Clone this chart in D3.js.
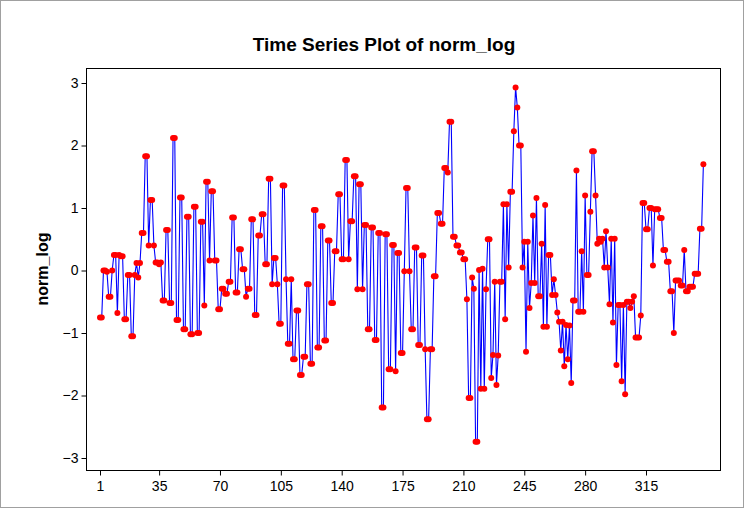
<!DOCTYPE html>
<html>
<head>
<meta charset="utf-8">
<script src="https://cdn.jsdelivr.net/npm/d3@7"></script>
<style>
  html, body { margin: 0; padding: 0; background: #fff; }
  svg { display: block; font-family: "Liberation Sans", Arial, sans-serif; }
</style>
</head>
<body>
<div id="chart"></div>
<script>
// Time series values (index 1..348)
const normLog = [
  -0.75, -0.75, 0.0, 0.0, -0.02, -0.42, -0.42, 0.0, 0.25, 0.25, -0.68, 0.25, 0.23, 0.23, -0.78, -0.78, -0.07, -0.07, -1.05, -1.05, -0.07, 0.12, -0.11, 0.12, 0.6, 0.6, 1.83, 1.83,
  0.4, 1.13, 1.13, 0.4, 0.13, 0.13, 0.1, 0.13, -0.48, -0.48, 0.65, 0.65, -0.52, -0.52, 2.12, 2.12, -0.79, -0.79, 1.17, 1.17, -0.94, -0.94, 0.86, 0.86, -1.02, -1.02, 1.02, 1.02,
  -1.0, -1.0, 0.78, 0.78, -0.56, 1.42, 1.42, 0.16, 1.27, 1.27, 0.16, 0.16, -0.62, -0.62, -0.29, -0.29, -0.37, -0.37, -0.18, -0.18, 0.85, 0.85, -0.35, -0.35, 0.34, 0.34, 0.02, 0.02, -0.42,
  -0.29, -0.29, 0.82, 0.82, -0.71, -0.71, 0.56, 0.56, 0.9, 0.9, 0.1, 0.1, 1.47, 1.47, -0.22, 0.2, 0.2, -0.22, -0.85, -0.85, 1.36, 1.36, -0.14, -1.17, -1.17, -0.14, -1.42, -1.42, -0.64,
  -0.64, -1.67, -1.67, -1.38, -1.38, -0.22, -0.22, -1.49, -1.49, 0.97, 0.97, -1.23, -1.23, 0.71, 0.71, -1.12, -1.12, 0.48, 0.48, -0.52, -0.52, 0.31, 0.31, 1.22, 1.22, 0.18, 0.18, 1.77,
  1.77, 0.18, 0.79, 0.79, 1.51, 1.51, -0.3, 1.38, 1.38, -0.3, 0.73, 0.73, -0.94, -0.94, 0.69, 0.69, -1.11, -1.11, 0.6, 0.6, -2.19, -2.19, 0.58, 0.58, -1.58, -1.58, 0.41, 0.41, -1.61,
  0.28, 0.28, -1.32, -1.32, -0.01, 1.32, 1.32, -0.01, -0.94, -0.94, 0.37, 0.37, -1.19, -1.19, 0.24, 0.24, -1.26, -2.38, -2.38, -1.26, -1.26, -0.09, -0.09, 0.92, 0.92, 0.75, 0.75, 1.64, 1.64,
  1.57, 2.38, 2.38, 0.54, 0.54, 0.4, 0.4, 0.29, 0.29, 0.18, 0.18, -0.46, -2.04, -2.04, -0.11, -0.29, -2.74, -2.74, 0.01, -1.89, 0.03, -1.89, -0.3, 0.5, 0.5, -1.72, -1.35, -0.18,
  -1.83, -1.36, -0.18, -0.18, 1.06, -0.78, 1.06, 0.05, 1.26, 1.26, 2.23, 2.93, 2.61, 2.0, 2.0, 0.05, 0.46, -1.3, 0.46, -0.6, -0.2, 0.88, -0.2, 1.16, -0.41, -0.41, 0.43, -0.9, 1.05,
  -0.9, 0.25, 0.25, -0.39, -0.14, -0.39, -0.67, -0.82, -1.28, -0.82, -1.53, -0.87, -1.42, -0.88, -1.8, -0.48, -0.48, 1.6, -0.66, -0.66, 0.31, -0.66, 1.2, -0.07, -0.07, 0.94, 1.91, 1.91, 1.2, 0.43,
  0.51, 0.46, 0.51, 0.05, 0.63, 0.05, -0.54, 0.51, -0.83, 0.51, -1.51, -0.55, -0.55, -1.77, -0.55, -1.98, -0.5, -0.5, -0.6, -0.5, -0.41, -1.07, -1.07, -1.07, -0.72, 1.08, 1.08, 0.66,
  0.66, 1.0, 1.0, 0.08, 0.98, 0.98, 0.98, 0.84, 0.84, 0.33, 0.33, 0.14, 0.14, -0.33, -0.33, -1.0, -0.16, -0.16, -0.16, -0.24, -0.24, 0.33, -0.33, -0.33, -0.26, -0.26, -0.26, -0.05, -0.05, -0.05, 0.67, 0.67, 1.7
];

const xTickValues = [1, 35, 70, 105, 140, 175, 210, 245, 280, 315];
const yTickValues = [-3, -2, -1, 0, 1, 2, 3];

const titleText = "Time Series Plot of norm_log";
const yLabelText = "norm_log";

const width = 744, height = 508;
const plot = { left: 86, right: 720, top: 68, bottom: 470 };

const svg = d3.select("#chart").append("svg")
  .attr("width", width)
  .attr("height", height);

// outer frame of the graph window
svg.append("rect")
  .attr("x", 0.5).attr("y", 0.5)
  .attr("width", width - 1).attr("height", height - 1)
  .attr("fill", "#fff")
  .attr("stroke", "#a0a0a0");

// index 1 sits at x=100, index 315 at x=646
const xScale = d3.scaleLinear()
  .domain([1 - 14 / (546 / 314), 1 + 620 / (546 / 314)])
  .range([plot.left, plot.right]);

const yScale = d3.scaleLinear()
  .domain([(270.5 - plot.bottom) / 62.5, (270.5 - plot.top) / 62.5])
  .range([plot.bottom, plot.top]);

// plot box
svg.append("rect")
  .attr("x", plot.left + 0.5).attr("y", plot.top + 0.5)
  .attr("width", plot.right - plot.left).attr("height", plot.bottom - plot.top)
  .attr("fill", "#fff")
  .attr("stroke", "#000");

// axes
const xAxis = svg.append("g")
  .attr("transform", `translate(0, ${plot.bottom + 0.5})`)
  .call(d3.axisBottom(xScale).tickValues(xTickValues).tickSize(5).tickSizeOuter(0));
xAxis.select(".domain").remove();
xAxis.selectAll("text").style("font-size", "14px").attr("dy", "0.9em").attr("fill", "#000");

const yAxis = svg.append("g")
  .attr("transform", `translate(${plot.left + 0.5}, 0)`)
  .call(d3.axisLeft(yScale).tickValues(yTickValues).tickFormat(d3.format("d")).tickSize(5).tickSizeOuter(0));
yAxis.select(".domain").remove();
yAxis.selectAll("text").style("font-size", "14px").attr("fill", "#000");

// title and axis label
svg.append("text")
  .attr("x", 384).attr("y", 51)
  .attr("text-anchor", "middle")
  .style("font-size", "19px")
  .style("font-weight", "bold")
  .text(titleText);

svg.append("text")
  .attr("transform", `translate(48, ${(plot.top + plot.bottom) / 2}) rotate(-90)`)
  .attr("text-anchor", "middle")
  .style("font-size", "16px")
  .style("font-weight", "bold")
  .text(yLabelText);

// series line + symbols
const line = d3.line()
  .x((d, i) => xScale(i + 1))
  .y(d => yScale(d));

svg.append("path")
  .datum(normLog)
  .attr("fill", "none")
  .attr("stroke", "#0000ff")
  .attr("stroke-width", 1.1)
  .attr("d", line);

svg.append("g")
  .selectAll("circle")
  .data(normLog)
  .join("circle")
  .attr("cx", (d, i) => xScale(i + 1))
  .attr("cy", d => yScale(d))
  .attr("r", 3)
  .attr("fill", "#ff0000");
</script>
</body>
</html>
